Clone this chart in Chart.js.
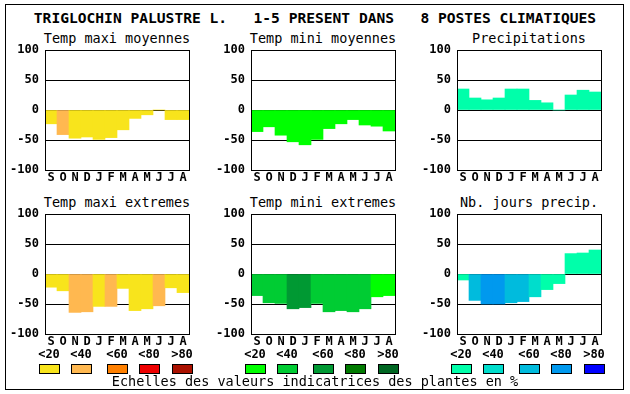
<!DOCTYPE html>
<html>
<head>
<meta charset="utf-8">
<script src="https://cdn.jsdelivr.net/npm/chart.js@4.4.1/dist/chart.umd.min.js"></script>
<style>
  body { margin: 0; background: #fff; width: 630px; height: 394px; position: relative; overflow: hidden; font-family: "DejaVu Sans Mono", monospace; }
  .frame { position: absolute; left: 5px; top: 4px; width: 617px; height: 384px; border: 1px solid #000; }
  .title { position: absolute; left: 0; width: 630px; top: 9px; text-align: center; font-weight: bold; font-size: 14.6px; white-space: pre; }
  .ptitle { position: absolute; width: 200px; text-align: center; font-size: 13.5px; white-space: pre; }
  canvas { position: absolute; }
  .lab { position: absolute; width: 30px; text-align: center; font-weight: bold; font-size: 12px; top: 347px; }
  .box { position: absolute; width: 19px; height: 8px; border: 1px solid #000; top: 364px; }
  .foot { position: absolute; left: 0; width: 630px; top: 373px; text-align: center; font-size: 13.5px; white-space: pre; }
</style>
</head>
<body>
<div class="frame"></div>
<div class="title">TRIGLOCHIN PALUSTRE L.   1-5 PRESENT DANS   8 POSTES CLIMATIQUES</div>
<div id="wrap"></div>
<div class="foot">Echelles des valeurs indicatrices des plantes en %</div>
<script>
// months (Sept -> Aug)
const months = ['S', 'O', 'N', 'D', 'J', 'F', 'M', 'A', 'M', 'J', 'J', 'A'];
const yTicks = [100, 50, 0, -50, -100];
const scaleLabels = ['<20', '<40', '<60', '<80', '>80'];

// values
const tmaxMoy = [-23, -41, -47, -45, -49, -46, -33, -14, -8, 0, -16, -16];
const tminMoy = [-36, -28, -42, -53, -58, -49, -31, -23, -16, -25, -27, -35];
const precip = [35, 20, 17, 20, 35, 35, 16, 12, 0, 25, 33, 30];
const tmaxExt = [-22, -28, -64, -63, -54, -54, -24, -61, -58, -53, -23, -31];
const tminExt = [-36, -48, -49, -58, -56, -49, -63, -61, -63, -58, -38, -36];
const joursPrecip = [-10, -44, -50, -50, -48, -46, -38, -26, -16, 34, 35, 40];

// indicator class of each bar (0 = <20 ... 4 = >80)
const tmaxMoyCls = [0, 1, 0, 0, 0, 0, 0, 0, 0, 0, 0, 0];
const tminMoyCls = [0, 0, 0, 0, 0, 0, 0, 0, 0, 0, 0, 0];
const precipCls = [0, 0, 0, 0, 0, 0, 0, 0, 0, 0, 0, 0];
const tmaxExtCls = [0, 0, 1, 1, 0, 1, 0, 0, 0, 1, 0, 0];
const tminExtCls = [1, 1, 1, 2, 2, 1, 1, 1, 1, 1, 0, 0];
const joursPrecipCls = [0, 2, 3, 3, 2, 2, 1, 0, 0, 0, 0, 0];

const warm = ['#f8e41c', '#ffb850', '#ff8000', '#ee0000', '#aa1100'];
const green = ['#00ff00', '#00cc33', '#009933', '#007a00', '#006622'];
const water = ['#00ffaa', '#00ddcc', '#00bbdd', '#0099ee', '#0000ff'];

const panels = [
    { title: 'Temp maxi moyennes', data: tmaxMoy, cls: tmaxMoyCls, pal: warm, x: 45, y: 50 },
    { title: 'Temp mini moyennes', data: tminMoy, cls: tminMoyCls, pal: green, x: 251, y: 50 },
    { title: 'Precipitations', data: precip, cls: precipCls, pal: water, x: 457, y: 50 },
    { title: 'Temp maxi extremes', data: tmaxExt, cls: tmaxExtCls, pal: warm, x: 45, y: 214 },
    { title: 'Temp mini extremes', data: tminExt, cls: tminExtCls, pal: green, x: 251, y: 214 },
    { title: 'Nb. jours precip.', data: joursPrecip, cls: joursPrecipCls, pal: water, x: 457, y: 214 }
];
const PW = 144;

// frame around the plot area
const frameBox = {
    id: 'frameBox',
    afterDraw(chart) {
        const a = chart.chartArea;
        const ctx = chart.ctx;
        ctx.save();
        ctx.strokeStyle = '#000';
        ctx.lineWidth = 1;
        ctx.strokeRect(Math.round(a.left) + 0.5, Math.round(a.top) + 0.5, Math.round(a.right - a.left), Math.round(a.bottom - a.top));
        ctx.restore();
    }
};

const wrap = document.getElementById('wrap');

panels.forEach(p => {
    const t = document.createElement('div');
    t.className = 'ptitle';
    t.textContent = p.title;
    t.style.left = (p.x + PW / 2 - 100) + 'px';
    t.style.top = (p.y - 20) + 'px';
    wrap.appendChild(t);

    // 14 top + 120 plot + 18 month labels
    const cv = document.createElement('canvas');
    cv.width = 193;
    cv.height = 152;
    wrap.appendChild(cv);

    const chart = new Chart(cv.getContext('2d'), {
        type: 'bar',
        data: {
            labels: months,
            datasets: [{
                data: p.data,
                backgroundColor: p.cls.map(c => p.pal[c]),
                borderWidth: 0,
                categoryPercentage: 1,
                barPercentage: 1
            }]
        },
        options: {
            responsive: false,
            maintainAspectRatio: false,
            animation: false,
            devicePixelRatio: 1,
            layout: { padding: { top: 14, right: 4, left: 0, bottom: 0 } },
            plugins: { legend: { display: false }, tooltip: { enabled: false } },
            scales: {
                x: {
                    afterFit: s => { s.height = 18; },
                    grid: { display: false, drawTicks: false },
                    border: { display: false },
                    ticks: { color: '#000', padding: 1, maxRotation: 0, autoSkip: false, font: { family: 'DejaVu Sans Mono', weight: 'bold', size: 12 } }
                },
                y: {
                    min: -100,
                    max: 100,
                    z: 1,
                    afterFit: s => { s.width = 45; },
                    afterBuildTicks: s => { s.ticks = yTicks.map(v => ({ value: v })); },
                    grid: { color: '#000', lineWidth: 1, drawTicks: false },
                    border: { display: false },
                    ticks: { color: '#000', padding: 6, font: { family: 'DejaVu Sans Mono', weight: 'bold', size: 12 } }
                }
            }
        },
        plugins: [frameBox]
    });

    const a = chart.chartArea;
    cv.style.left = Math.round(p.x - a.left) + 'px';
    cv.style.top = Math.round(p.y - a.top) + 'px';

    // indicator scale under the lower panels
    if (p.y > 100) {
        const offs = [-6, 26, 62, 94, 127];
        scaleLabels.forEach((lab, i) => {
            const l = document.createElement('div');
            l.className = 'lab';
            l.textContent = lab;
            l.style.left = (p.x + offs[i] + 10 - 15) + 'px';
            wrap.appendChild(l);
            const b = document.createElement('div');
            b.className = 'box';
            b.style.left = (p.x + offs[i]) + 'px';
            b.style.background = p.pal[i];
            wrap.appendChild(b);
        });
    }
});
</script>
</body>
</html>
